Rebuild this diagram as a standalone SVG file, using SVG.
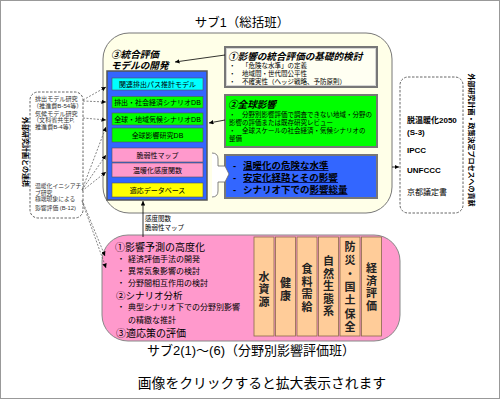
<svg xmlns="http://www.w3.org/2000/svg" width="500" height="400" viewBox="0 0 500 400" lang="ja">
<defs>
<marker id="ah" viewBox="0 0 6 6" refX="6" refY="3" markerWidth="4.5" markerHeight="4.5" orient="auto" markerUnits="userSpaceOnUse"><path d="M0,0 L6,3 L0,6 z" fill="#000"/></marker>
<style>
text{font-family:"Liberation Sans","Noto Sans CJK JP","Noto Sans",sans-serif;fill:#000}
.dash{fill:none;stroke:#666;stroke-width:0.8;stroke-dasharray:2 1.5}
.dbox{fill:#fff;stroke:#555;stroke-width:0.9;stroke-dasharray:2.5 1.5}
.item{stroke:#555;stroke-width:0.6}
.it{font-size:7px;text-anchor:middle}
.s{font-size:6.1px;fill:#333}
.s2{font-size:5.8px;fill:#333}
.b{font-size:6.5px}
.hd{font-size:9.6px;font-weight:bold;font-style:italic}
.col{fill:#FFCC99;stroke:#8a6a4a;stroke-width:0.8}
.ct{font-size:11px;font-weight:bold;text-anchor:middle;dominant-baseline:central;fill:#222}
.pk{font-size:8px}
.conn{fill:none;stroke:#000;stroke-width:0.8}
.ul{stroke:#000033;stroke-width:0.8}
.vt{font-size:7px;font-weight:bold;text-anchor:middle}
</style>
</defs>
<rect x="0.5" y="0.5" width="499" height="398" fill="#fff" stroke="#999"/>
<text x="242" y="27" font-size="12.5" text-anchor="middle">サブ1（総括班）</text>

<g id="sub1">
<rect x="103" y="33" width="289" height="180" rx="26" fill="#FFFFE8" stroke="#777" stroke-width="1"/>
<text class="hd" x="111" y="58">③統合評価</text>
<text class="hd" x="111" y="69">モデルの開発</text>
</g>

<g id="model-stack">
<rect x="107" y="71" width="100" height="129" fill="#3366FF" stroke="#555" stroke-width="1.5"/>
<rect class="item" x="112" y="78" width="91" height="12" fill="#00FFFF"/>
<text class="it" x="157.5" y="86.5">関連排出パス推計モデル</text>
<rect class="item" x="112" y="96.5" width="91" height="11.5" fill="#00FF00"/>
<text class="it" x="157.5" y="104.8">排出・社会経済シナリオDB</text>
<rect class="item" x="112" y="113" width="91" height="12" fill="#00FF00"/>
<text class="it" x="157.5" y="121.5">全球・地域気候シナリオDB</text>
<rect class="item" x="112" y="128" width="91" height="14" fill="#00FF00"/>
<text class="it" x="157.5" y="137.5">全球影響研究DB</text>
<rect class="item" x="112" y="148" width="91" height="14" fill="#FF99CC"/>
<text class="it" x="157.5" y="157.5">脆弱性マップ</text>
<rect class="item" x="112" y="163" width="91" height="14" fill="#FF99CC"/>
<text class="it" x="157.5" y="172.5">温暖化感度関数</text>
<rect class="item" x="112" y="183" width="91" height="14" fill="#FFFF00"/>
<text class="it" x="157.5" y="192.5">適応データベース</text>
</g>

<g id="box1">
<rect x="225" y="47" width="152" height="40" fill="#FFFFF2" stroke="#777" stroke-width="2"/>
<rect x="226.5" y="48.5" width="149" height="37" fill="none" stroke="#ccc" stroke-width="0.8"/>
<text class="hd" x="228" y="59.5">①影響の統合評価の基礎的検討</text>
<text class="b" x="229" y="67.8">・</text><text class="b" x="242" y="67.8">「危険な水準」の定義</text>
<text class="b" x="229" y="75.8">・</text><text class="b" x="242" y="75.8">地域間・世代間公平性</text>
<text class="b" x="229" y="84">・</text><text class="b" x="242" y="84">不確実性（ヘッジ戦略、予防原則）</text>
</g>

<g id="box2">
<rect x="225" y="95" width="152" height="52" fill="#00FF00" stroke="#777" stroke-width="2"/>
<text class="hd" x="228" y="108">②全球影響</text>
<text class="b" x="229" y="117.3">・</text><text class="b" x="242" y="117.3">分野別影響評価で調査できない地域・分野の</text>
<text class="b" x="229" y="124.8">影響の評価または既存研究レビュー</text>
<text class="b" x="229" y="132.6">・</text><text class="b" x="242" y="132.6">全球スケールの社会経済・気候シナリオの</text>
<text class="b" x="229" y="140.6">整備</text>
</g>

<g id="box3">
<rect x="225" y="155" width="152" height="43" fill="#3366FF" stroke="#777" stroke-width="2"/>
<g font-size="9.5" font-weight="bold">
<text x="233" y="168.5" fill="#000033">-</text><text x="243" y="168.5" fill="#000033">温暖化の危険な水準</text>
<text x="233" y="180.5" fill="#000033">-</text><text x="243" y="180.5" fill="#000033">安定化経路とその影響</text>
<text x="233" y="192.5" fill="#000033">-</text><text x="243" y="192.5" fill="#000033">シナリオ下での影響総量</text>
</g>
<line class="ul" x1="243" y1="170.5" x2="328.5" y2="170.5"/>
<line class="ul" x1="243" y1="182.5" x2="338" y2="182.5"/>
<line class="ul" x1="309.5" y1="194.5" x2="347.5" y2="194.5"/>
</g>

<g id="ext-left">
<rect class="dbox" x="30" y="92" width="53" height="126" rx="8"/>
<text class="s" x="35" y="100.5">排出モデル研究</text>
<text class="s" x="33" y="107.5">（推進費B-54等）</text>
<text class="s" x="35" y="115.5">気候モデル研究</text>
<text class="s" x="33" y="122.3">（文科省共生P,</text>
<text class="s" x="35" y="129.2">推進費B-4等）</text>
<text class="s2" x="35" y="188">温暖化イニシアチ</text>
<text class="s2" x="35" y="194.6">ブ研究</text>
<text class="s2" x="35" y="201.2">極端現象による</text>
<text class="s2" x="35" y="210">影響評価 (B-12)</text>
<text class="vt" transform="translate(23,152) rotate(90)">外部研究計画との連携</text>
</g>

<g id="ext-right">
<rect class="dbox" x="400" y="77" width="63" height="136" rx="8"/>
<g font-size="8" fill="#333">
<text x="407" y="123" font-weight="bold" fill="#444">脱温暖化2050</text>
<text x="407" y="135" font-weight="bold" fill="#444">(S-3)</text>
<text x="407" y="153" font-weight="bold" fill="#222">IPCC</text>
<text x="407" y="173" font-weight="bold" fill="#222">UNFCCC</text>
<text x="407" y="195" fill="#444">京都議定書</text>
</g>
<text class="vt" transform="translate(469,140) rotate(90)">外部研究計画・政策決定プロセスへの貢献</text>
</g>

<g id="sub2">
<rect x="102" y="235" width="298" height="106" rx="26" fill="#FF99CC" stroke="#888" stroke-width="1"/>
<text x="115" y="251" font-size="10">①影響予測の高度化</text>
<text class="pk" x="117" y="261.5">・</text><text class="pk" x="128" y="261.5">経済評価手法の開発</text>
<text class="pk" x="117" y="273.5">・</text><text class="pk" x="128" y="273.5">異常気象影響の検討</text>
<text class="pk" x="117" y="286">・</text><text class="pk" x="128" y="286">分野間相互作用の検討</text>
<text x="116" y="298.5" font-size="9.5">②シナリオ分析</text>
<text class="pk" x="117" y="310">・</text><text class="pk" x="128" y="310">典型シナリオ下での分野別影響</text>
<text class="pk" x="128" y="323">の精緻な推計</text>
<text x="116" y="336.5" font-size="10">③適応策の評価</text>
</g>

<g id="sectors">
<rect class="col" x="254" y="237" width="20" height="99"/>
<rect class="col" x="275.5" y="237" width="20" height="99"/>
<rect class="col" x="297" y="237" width="20" height="99"/>
<rect class="col" x="318.5" y="237" width="20" height="99"/>
<rect class="col" x="340" y="237" width="20" height="99"/>
<rect class="col" x="361.5" y="237" width="20" height="99"/>
<text class="ct" x="264" y="276.5">水</text><text class="ct" x="264" y="289">資</text><text class="ct" x="264" y="301.5">源</text>
<text class="ct" x="285.5" y="283">健</text><text class="ct" x="285.5" y="295.5">康</text>
<text class="ct" x="307" y="269">食</text><text class="ct" x="307" y="281.5">料</text><text class="ct" x="307" y="294">需</text><text class="ct" x="307" y="306.5">給</text>
<text class="ct" x="328.5" y="261">自</text><text class="ct" x="328.5" y="273.5">然</text><text class="ct" x="328.5" y="286">生</text><text class="ct" x="328.5" y="298.5">態</text><text class="ct" x="328.5" y="311">系</text>
<text class="ct" x="350" y="247">防</text><text class="ct" x="350" y="260.3">災</text><text class="ct" x="350" y="273.6">・</text><text class="ct" x="350" y="286.9">国</text><text class="ct" x="350" y="300.2">土</text><text class="ct" x="350" y="313.5">保</text><text class="ct" x="350" y="326.8">全</text>
<text class="ct" x="371.5" y="268">経</text><text class="ct" x="371.5" y="280.5">済</text><text class="ct" x="371.5" y="293">評</text><text class="ct" x="371.5" y="305.5">価</text>
</g>

<text x="251" y="355" font-size="13" text-anchor="middle">サブ2(1)〜(6)（分野別影響評価班）</text>
<text x="262" y="388" font-size="13.8" text-anchor="middle" fill="#555">画像をクリックすると拡大表示されます</text>

<g id="connectors">
<line class="conn" x1="225" y1="55" x2="175" y2="62" marker-end="url(#ah)"/>
<line class="conn" x1="225" y1="120" x2="209" y2="123" marker-end="url(#ah)"/>
<line class="conn" x1="392" y1="167" x2="399" y2="167" marker-end="url(#ah)"/>
<line class="conn" x1="143" y1="237" x2="143" y2="201" marker-end="url(#ah)"/>
<path d="M212,153 Q218,153 218,159 L218,166 L225,166 L229,174 L225,182 L218,182 L218,191 Q218,197 212,197" fill="#fff" stroke="#666" stroke-width="0.8"/>
<text x="145" y="220.5" font-size="6.5">感度関数</text>
<text x="145" y="229.5" font-size="6.5">脆弱性マップ</text>
<path class="dash" d="M83,100 L106,87" marker-end="url(#ah)"/>
<path class="dash" d="M83,101 L106,102" marker-end="url(#ah)"/>
<path class="dash" d="M83,118 L106,120" marker-end="url(#ah)"/>
<path class="dash" d="M82,190 L106,127" marker-end="url(#ah)"/>
<path class="dash" d="M82,190 L106,155" marker-end="url(#ah)"/>
<path class="dash" d="M82,191 L106,172" marker-end="url(#ah)"/>
<path class="dash" d="M82,200 L105,256" marker-end="url(#ah)"/>
<path class="dash" d="M82,201 L106,268" marker-end="url(#ah)"/>
</g>
</svg>
